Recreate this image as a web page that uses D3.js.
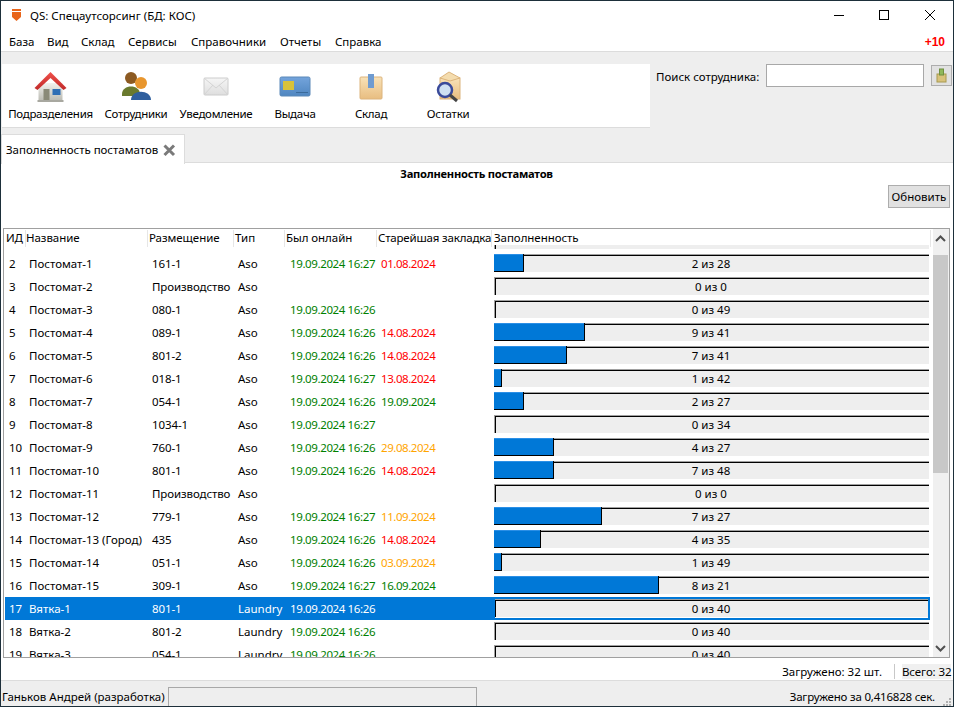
<!DOCTYPE html>
<html>
<head>
<meta charset="utf-8">
<script src="https://cdn.jsdelivr.net/npm/d3@7"></script>
<style>
html, body { margin: 0; padding: 0; background: #fff; }
svg { display: block; }
text { font-family: "Noto Sans", sans-serif; font-size: 11.5px; fill: #000; }
</style>
</head>
<body>
<svg width="954" height="707"></svg>
<script>
const ids = [1, 2, 3, 4, 5, 6, 7, 8, 9, 10, 11, 12, 13, 14, 15, 16, 17, 18, 19];
const names = ['', 'Постомат-1', 'Постомат-2', 'Постомат-3', 'Постомат-4', 'Постомат-5', 'Постомат-6', 'Постомат-7', 'Постомат-8', 'Постомат-9', 'Постомат-10', 'Постомат-11', 'Постомат-12', 'Постомат-13 (Город)', 'Постомат-14', 'Постомат-15', 'Вятка-1', 'Вятка-2', 'Вятка-3'];
const places = ['', '161-1', 'Производство', '080-1', '089-1', '801-2', '018-1', '054-1', '1034-1', '760-1', '801-1', 'Производство', '779-1', '435', '051-1', '309-1', '801-1', '801-2', '054-1'];
const types = ['', 'Aso', 'Aso', 'Aso', 'Aso', 'Aso', 'Aso', 'Aso', 'Aso', 'Aso', 'Aso', 'Aso', 'Aso', 'Aso', 'Aso', 'Aso', 'Laundry', 'Laundry', 'Laundry'];
const online = ['', '19.09.2024 16:27', '', '19.09.2024 16:26', '19.09.2024 16:26', '19.09.2024 16:26', '19.09.2024 16:27', '19.09.2024 16:26', '19.09.2024 16:27', '19.09.2024 16:26', '19.09.2024 16:26', '', '19.09.2024 16:27', '19.09.2024 16:26', '19.09.2024 16:26', '19.09.2024 16:27', '19.09.2024 16:26', '19.09.2024 16:26', '19.09.2024 16:26'];
const oldest = ['', '01.08.2024', '', '', '14.08.2024', '14.08.2024', '13.08.2024', '19.09.2024', '', '29.08.2024', '14.08.2024', '', '11.09.2024', '14.08.2024', '03.09.2024', '16.09.2024', '', '', ''];
const filled = [null, 2, 0, 0, 9, 7, 1, 2, 0, 4, 7, 0, 7, 4, 1, 8, 0, 0, 0];
const totals = [null, 28, 0, 49, 41, 41, 42, 27, 34, 27, 48, 0, 27, 35, 49, 21, 40, 40, 40];
const percent = [0, 6.9, 0, 0, 20.9, 16.8, 1.8, 6.9, 0, 13.8, 13.8, 0, 24.8, 10.8, 1.8, 37.9, 0, 0, 0];

const columns = ['ИД', 'Название', 'Размещение', 'Тип', 'Был онлайн', 'Старейшая закладка', 'Заполненность'];
const menuItems = ['База', 'Вид', 'Склад', 'Сервисы', 'Справочники', 'Отчеты', 'Справка'];
const tools = ['Подразделения', 'Сотрудники', 'Уведомление', 'Выдача', 'Склад', 'Остатки'];

const selectedId = 17;
const today = new Date(2024, 8, 19);

const svg = d3.select('svg');

const rows = ids.map((id, i) => ({
    id, name: names[i], place: places[i], type: types[i], online: online[i], oldest: oldest[i],
    filled: filled[i], total: totals[i], percent: percent[i]
}));

const x = d3.scaleLinear().domain([0, 100]).rangeRound([494, 929]);
const y = d3.scaleBand().domain(ids).range([229, 229 + 23 * ids.length]);

function rect(parent, rx, ry, w, h, fill, stroke) {
    return parent.append('rect')
        .attr('x', rx).attr('y', ry).attr('width', w).attr('height', h)
        .attr('fill', fill).attr('stroke', stroke || 'none');
}

function label(parent, lx, ly, str, anchor) {
    return parent.append('text')
        .attr('x', lx).attr('y', ly)
        .attr('text-anchor', anchor || 'start')
        .text(str);
}

function shape(parent, d, fill, stroke, sw) {
    return parent.append('path')
        .attr('d', d).attr('fill', fill)
        .attr('stroke', stroke || 'none').attr('stroke-width', sw || 1);
}

function gradient(id, top, bottom) {
    const g = svg.append('linearGradient').attr('id', id)
        .attr('x1', 0).attr('y1', 0).attr('x2', 0).attr('y2', 1);
    g.append('stop').attr('offset', 0).attr('stop-color', top);
    g.append('stop').attr('offset', 1).attr('stop-color', bottom);
}

// colour of the oldest item depends on its age in days
function ageColor(str) {
    const p = str.split('.');
    const days = (today - new Date(+p[2], +p[1] - 1, +p[0])) / 864e5;
    if (days >= 30) return '#ff0000';
    if (days >= 7) return '#ffa500';
    return '#008000';
}

gradient('tan', '#f8e2b8', '#e8bd80');
gradient('roof', '#f0504a', '#c02a2a');
gradient('wall', '#f2f2ee', '#bdbdb5');
gradient('card', '#74a4dc', '#4f86c0');
gradient('env', '#f6f6f6', '#dedede');

// window chrome
rect(svg, 0, 52, 954, 628, '#eeeeee');
rect(svg, 0, 51, 954, 1, '#dcdcdc');

label(svg, 30, 20, 'QS: Спецаутсорсинг (БД: КОС)');
shape(svg, 'M12 9H21V17L16.5 21L12 17Z', '#e8651b');
shape(svg, 'M12 11.5H21', 'none', '#fff');
svg.append('g').attr('stroke', '#000').attr('fill', 'none').call(g => {
    g.append('path').attr('d', 'M834 15.5H844');
    g.append('rect').attr('x', 879.5).attr('y', 10.5).attr('width', 9).attr('height', 9);
    g.append('path').attr('d', 'M925 10L935 20M935 10L925 20');
});

const menuX = [9, 47, 81, 128, 191, 280, 335];
svg.append('g').selectAll('text').data(menuItems).join('text')
    .attr('x', (d, i) => menuX[i]).attr('y', 46).text(d => d);
label(svg, 945, 46, '+10', 'end')
    .style('fill', '#ff0000')
    .style('font-family', '"Liberation Sans"').style('font-weight', 'bold').style('font-size', '12px');

// toolbar
rect(svg, 2, 64, 648, 63, '#fff');
rect(svg, 2, 127, 648, 1, '#dcdcdc');
const toolX = [50.5, 136, 216, 295, 371, 448];
svg.append('g').selectAll('text').data(tools).join('text')
    .attr('x', (d, i) => toolX[i]).attr('y', 118).attr('text-anchor', 'middle')
    .style('letter-spacing', '-0.28px').text(d => d);

const icon = i => svg.append('g').attr('transform', `translate(${toolX[i]},87)`);

let ic = icon(0);
rect(ic, -12, -4, 24, 17, 'url(#wall)');
rect(ic, -7, 2, 6, 11, '#8a8a78');
rect(ic, 2, 2, 8, 6, '#2f6fb5');
shape(ic, 'M-16 1L0 -15L16 1L13 3L0 -9L-13 3Z', 'url(#roof)');
rect(ic, -13, 13, 26, 2, '#a8a8a0');

ic = icon(1);
ic.append('circle').attr('cx', -5).attr('cy', -9).attr('r', 6).attr('fill', '#8c5a22');
shape(ic, 'M-14 7C-14 -3 4 -3 4 7V9H-14Z', '#6a7a2e');
ic.append('circle').attr('cx', 5).attr('cy', -4).attr('r', 6).attr('fill', '#e8962e');
shape(ic, 'M-5 13C-5 2 15 2 15 13Z', '#2f5f9e');

ic = icon(2);
rect(ic, -12, -9, 24, 17, 'url(#env)', '#cccccc').attr('rx', 1);
shape(ic, 'M-12 -9L0 1L12 -9M-12 8L-3 -2M12 8L3 -2', 'none', '#d4d4d4');

ic = icon(3);
rect(ic, -15, -10, 30, 19, 'url(#card)', '#5a88b8').attr('rx', 1.5);
rect(ic, -12, -6, 11, 9, '#d8c23a');
rect(ic, 1, 5, 12, 1, '#3a6a9a');

ic = icon(4);
rect(ic, -11, -10, 22, 22, 'url(#tan)', '#dcb47c').attr('rx', 1);
rect(ic, -3, -13, 6, 14, '#6f9bd0');

ic = icon(5);
rect(ic, -8, -9, 20, 21, 'url(#tan)', '#dcb47c');
shape(ic, 'M-8 -9L1 -15L12 -9L2 -6Z', '#f4dcae', '#dcb47c');
ic.append('circle').attr('cx', -3).attr('cy', 3).attr('r', 7).attr('fill', '#cfe0f2').attr('stroke', '#3a4a9a').attr('stroke-width', 2.5);
shape(ic, 'M2 8L9 14', 'none', '#444', 3);

// search
label(svg, 656, 81, 'Поиск сотрудника:');
rect(svg, 766.5, 64.5, 157, 22, '#fff', '#a8a8a8');
rect(svg, 931.5, 65.5, 20, 20, '#e1e1e1', '#adadad');
rect(svg, 937, 74, 9, 8, '#d8c27a', '#a89a50');
rect(svg, 939.5, 69, 4, 6, '#8fb85a', '#6f9040');

// tab strip
rect(svg, 0, 163, 954, 517, '#fff');
rect(svg, 0, 162, 954, 1, '#dcdcdc');
rect(svg, 1.5, 134.5, 183, 29, '#fff', '#dcdcdc');
rect(svg, 2, 162, 182, 2, '#fff');
label(svg, 6, 154, 'Заполненность постаматов').style('letter-spacing', '-0.04px');
shape(svg, 'M164.5 145.5L174 155M174 145.5L164.5 155', 'none', '#7a7a7a', 3);

label(svg, 476.5, 178, 'Заполненность постаматов', 'middle')
    .style('font-weight', 'bold').style('font-size', '11.2px').style('letter-spacing', '-0.25px');
rect(svg, 888.5, 185.5, 61, 22, '#e1e1e1', '#adadad');
label(svg, 919, 201, 'Обновить', 'middle');

// table
rect(svg, 3.5, 228.5, 946, 429, '#fff', '#a0a0a0');
svg.append('clipPath').attr('id', 'body-clip')
    .append('rect').attr('x', 5).attr('y', 245).attr('width', 926).attr('height', 412);

const body = svg.append('g').attr('clip-path', 'url(#body-clip)');

const row = body.selectAll('g').data(rows).join('g')
    .attr('transform', d => `translate(0,${y(d.id)})`);

row.filter(d => d.id === selectedId).append('rect')
    .attr('x', 5).attr('width', 489).attr('height', y.bandwidth()).attr('fill', '#0078d7');

// the first row is scrolled under the header, only its bar edge shows
const textRows = row.filter(d => d.name);

const cells = [['id', 9], ['name', 29], ['place', 152], ['type', 238], ['online', 290]];
cells.forEach(([key, cx]) => {
    textRows.append('text')
        .attr('x', cx).attr('y', 16)
        .style('letter-spacing', key === 'online' ? '-0.38px' : (key === 'place' ? '-0.1px' : null))
        .style('fill', d => {
            if (d.id === selectedId) return '#fff';
            return key === 'online' ? '#008000' : '#000';
        })
        .text(d => d[key]);
});
textRows.append('text')
    .attr('x', 381).attr('y', 16)
    .style('letter-spacing', '-0.45px')
    .style('fill', d => d.oldest ? ageColor(d.oldest) : '#000')
    .text(d => d.oldest);

// fill bars
row.append('rect')
    .attr('x', x(0)).attr('y', 2).attr('width', x(100) - x(0)).attr('height', 18).attr('fill', '#eeeeee');
row.append('rect')
    .attr('x', x(0)).attr('y', 2).attr('width', x(100) - x(0)).attr('height', 1).attr('fill', '#a0a0a0');
row.append('rect')
    .attr('x', x(0)).attr('y', 3).attr('width', x(100) - x(0)).attr('height', 1).attr('fill', '#000');
row.append('rect')
    .attr('x', x(0)).attr('y', 2).attr('width', 1).attr('height', 18).attr('fill', '#a0a0a0');
row.append('rect')
    .attr('x', x(0) + 1).attr('y', 3).attr('width', 1).attr('height', 17).attr('fill', '#000');

const full = row.filter(d => d.percent > 0);
full.append('rect')
    .attr('x', x(0)).attr('y', 2).attr('width', d => x(d.percent) - x(0)).attr('height', 18).attr('fill', '#0078d7');
full.append('rect')
    .attr('x', x(0)).attr('y', 2).attr('width', d => x(d.percent) - x(0)).attr('height', 1).attr('fill', '#2b8fe6');
full.append('rect')
    .attr('x', x(0)).attr('y', 19).attr('width', d => x(d.percent) - x(0)).attr('height', 1).attr('fill', '#000');
full.append('rect')
    .attr('x', d => x(d.percent) - 1).attr('y', 2).attr('width', 1).attr('height', 18).attr('fill', '#000');

row.filter(d => d.total !== null).append('text')
    .attr('x', 711).attr('y', 16).attr('text-anchor', 'middle')
    .text(d => `${d.filled} из ${d.total}`);

// focus frame of the selected cell
row.filter(d => d.id === selectedId).append('rect')
    .attr('x', x(0)).attr('y', 1).attr('width', x(100) - x(0)).attr('height', y.bandwidth() - 2)
    .attr('fill', 'none').attr('stroke', '#0078d7').attr('stroke-width', 2);

// header
const headX = [6, 26, 149, 235, 286, 378, 494];
const sepX = [25, 147, 233, 284, 376, 491, 930];
const headSpacing = ['-0.3px', '-0.05px', '-0.05px', null, '-0.05px', '-0.18px', '-0.05px'];
rect(svg, 5, 230, 926, 15, '#fff');
svg.append('g').selectAll('rect').data(sepX).join('rect')
    .attr('x', d => d).attr('y', 230).attr('width', 1).attr('height', 17).attr('fill', '#e6e6e6');
svg.append('g').selectAll('text').data(columns).join('text')
    .attr('x', (d, i) => headX[i]).attr('y', 242)
    .style('letter-spacing', (d, i) => headSpacing[i]).text(d => d);

// scrollbar
rect(svg, 933, 229, 16, 428, '#f0f0f0');
rect(svg, 933, 255, 15, 218, '#c8c8c8');
shape(svg, 'M936 241L940.5 236.5L945 241', 'none', '#505050', 2);
shape(svg, 'M936 646L940.5 650.5L945 646', 'none', '#505050', 2);

// lower panel
label(svg, 882, 676, 'Загружено: 32 шт.', 'end');
rect(svg, 894, 664, 1, 15, '#c8c8c8');
rect(svg, 902, 664, 49, 15, '#f0f0f0');
label(svg, 902, 676, 'Всего: 32').style('letter-spacing', '-0.1px');

// status bar
rect(svg, 0, 680, 954, 27, '#eeeeee');
rect(svg, 0, 680, 954, 1, '#dcdcdc');
label(svg, 2, 701, 'Ганьков Андрей (разработка)');
rect(svg, 168.5, 687.5, 308, 19, '#eeeeee', '#a8a8a8');
label(svg, 935, 701, 'Загружено за 0,416828 сек.', 'end').style('letter-spacing', '-0.2px');
svg.append('g').attr('fill', '#b0b0b0').call(g => {
    [[949, 698], [946, 701], [949, 701], [943, 704], [946, 704], [949, 704]].forEach(p => {
        g.append('rect').attr('x', p[0]).attr('y', p[1]).attr('width', 2).attr('height', 2);
    });
});

// outer border of the window
rect(svg, 0.5, 0.5, 953, 706, 'none', '#1d2f3a');
</script>
</body>
</html>
